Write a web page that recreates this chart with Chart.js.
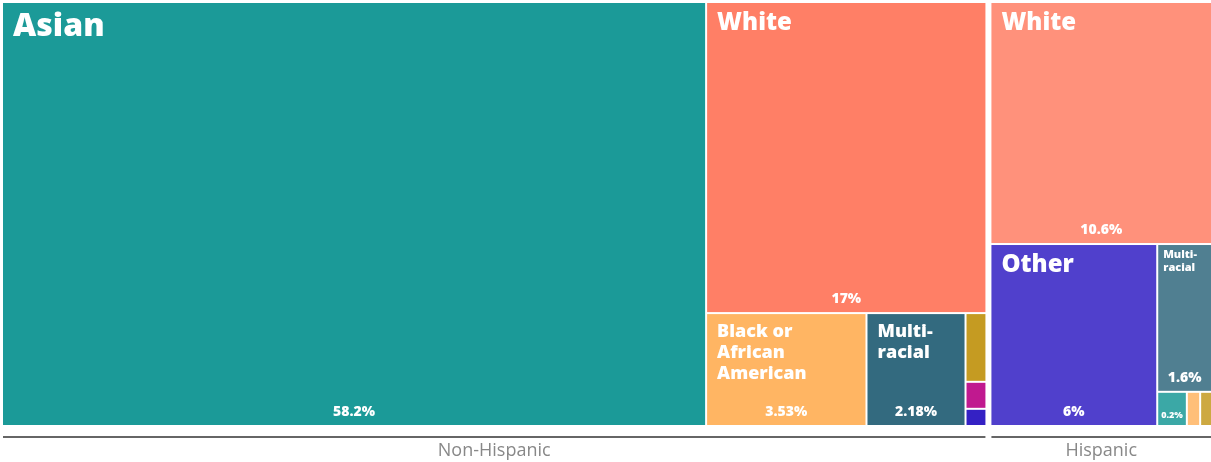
<!DOCTYPE html>
<html>
<head>
<meta charset="utf-8">
<script src="https://cdn.jsdelivr.net/npm/chart.js@4/dist/chart.umd.min.js"></script>
<style>
  body { margin: 0; background: #fff; }
  #wrap { width: 1211px; height: 462px; }
</style>
</head>
<body>
<div id="wrap"><canvas id="treeChart"></canvas></div>
<script>
// share of population (%), grouped by ethnicity then race
const groups = ['Non-Hispanic', 'Hispanic'];

const nonHispanicRaces = ['Asian', 'White', 'Black or African American', 'Multi\u00ADracial',
  'American Indian & Alaska Native', 'Native Hawaiian & Other Pacific Islander', 'Other'];
const nonHispanicShares = [58.2, 17, 3.53, 2.18, 0.28, 0.11, 0.07];

const hispanicRaces = ['White', 'Other', 'Multi\u00ADracial', 'Asian',
  'Black or African American', 'American Indian & Alaska Native'];
const hispanicShares = [10.6, 6, 1.6, 0.2, 0.09, 0.08];

const raceColors = {
  'Asian': '#1B9A98',
  'White': '#FF7F66',
  'Black or African American': '#FFB563',
  'Multi\u00ADracial': '#336A7F',
  'American Indian & Alaska Native': '#C59B22',
  'Native Hawaiian & Other Pacific Islander': '#C0198F',
  'Other': '#3421C4'
};

const groupRaces = [nonHispanicRaces, hispanicRaces];
const groupShares = [nonHispanicShares, hispanicShares];
const groupTint = [0, 0.14];   // hispanic cells drawn a little lighter

const PHI = (1 + Math.sqrt(5)) / 2;
const FONT = '"Open Sans", "Noto Sans", sans-serif';

function tint(hex, t) {
  const n = parseInt(hex.slice(1), 16);
  const c = [n >> 16, (n >> 8) & 255, n & 255].map(v => Math.round(v + (255 - v) * t));
  return 'rgb(' + c.join(',') + ')';
}

// d3 style squarify with golden ratio
function squarify(values, x0, y0, x1, y1) {
  const rects = [];
  const n = values.length;
  let value = values.reduce((a, b) => a + b, 0);
  let i0 = 0, i1 = 0;
  while (i0 < n) {
    const dx = x1 - x0, dy = y1 - y0;
    let sum = values[i1++];
    let minV = sum, maxV = sum;
    const alpha = Math.max(dy / dx, dx / dy) / (value * PHI);
    let beta = sum * sum * alpha;
    let minRatio = Math.max(maxV / beta, beta / minV);
    for (; i1 < n; ++i1) {
      const v = values[i1];
      sum += v;
      if (v < minV) minV = v;
      if (v > maxV) maxV = v;
      beta = sum * sum * alpha;
      const r = Math.max(maxV / beta, beta / minV);
      if (r > minRatio) { sum -= v; break; }
      minRatio = r;
    }
    if (dx < dy) {
      const h = dy * sum / value;
      let x = x0;
      for (let i = i0; i < i1; i++) {
        const w = dx * values[i] / sum;
        rects[i] = { x0: x, y0: y0, x1: x + w, y1: y0 + h };
        x += w;
      }
      y0 += h;
    } else {
      const w = dx * sum / value;
      let y = y0;
      for (let i = i0; i < i1; i++) {
        const h = dy * values[i] / sum;
        rects[i] = { x0: x0, y0: y, x1: x0 + w, y1: y + h };
        y += h;
      }
      x0 += w;
    }
    value -= sum;
    i0 = i1;
  }
  return rects;
}

function padded(values, r, pad) {
  return squarify(values, r.x0 - pad, r.y0 - pad, r.x1 + pad, r.y1 + pad)
    .map(c => ({ x0: c.x0 + pad, y0: c.y0 + pad, x1: c.x1 - pad, y1: c.y1 - pad }));
}

function wrapText(ctx, text, maxW) {
  const lines = [];
  let cur = '';
  text.split(' ').forEach(token => {
    const word = token.replace(/\u00AD/g, '');
    const cand = cur ? cur + ' ' + word : word;
    if (ctx.measureText(cand).width <= maxW) { cur = cand; return; }
    if (cur) lines.push(cur);
    const parts = token.split('\u00AD');
    if (ctx.measureText(word).width > maxW && parts.length > 1) {
      lines.push(parts[0] + '-');
      cur = parts.slice(1).join('');
    } else {
      cur = word;
    }
  });
  if (cur) lines.push(cur);
  return lines;
}

function nameSize(w, h) {
  if (w * h > 150000) return 32;
  if (w * h > 25000) return 24;
  if (Math.min(w, h) > 90) return 18;
  return 11;
}

const treemapPlugin = {
  id: 'treemap',
  afterDraw(chart) {
    const ctx = chart.ctx;
    const xs = chart.scales.x, ys = chart.scales.y;
    const area = {
      x0: xs.getPixelForValue(0), x1: xs.getPixelForValue(100),
      y0: ys.getPixelForValue(100), y1: ys.getPixelForValue(0)
    };
    const totals = groupShares.map(s => s.reduce((a, b) => a + b, 0));
    const groupRects = padded(totals, area, 3);

    ctx.save();
    groupRects.forEach((g, gi) => {
      const cells = padded(groupShares[gi], g, 1);
      cells.forEach((c, i) => {
        const race = groupRaces[gi][i];
        const w = c.x1 - c.x0, h = c.y1 - c.y0;
        ctx.fillStyle = tint(raceColors[race], groupTint[gi]);
        ctx.fillRect(c.x0, c.y0, w, h);

        ctx.fillStyle = '#fff';
        // name in top-left corner
        if (w >= 45 && h >= 60) {
          const fs = nameSize(w, h);
          const pad = w < 60 ? 5 : 10;
          ctx.font = '800 ' + fs + 'px ' + FONT;
          ctx.textAlign = 'left';
          ctx.textBaseline = 'alphabetic';
          const lh = Math.round(fs * 1.15);
          wrapText(ctx, race, w - 2 * pad).forEach((ln, k) => {
            ctx.fillText(ln, c.x0 + pad, c.y0 + pad + fs * 0.72 + k * lh);
          });
        }
        // share along the bottom
        if (w >= 25 && h >= 25) {
          const ps = w < 40 ? 9 : 14;
          ctx.font = '800 ' + ps + 'px ' + FONT;
          ctx.textAlign = 'center';
          ctx.textBaseline = 'alphabetic';
          ctx.fillText(groupShares[gi][i] + '%', (c.x0 + c.x1) / 2, c.y1 - (ps < 10 ? 7 : 9));
        }
      });

      // group bracket + name underneath
      ctx.strokeStyle = '#666';
      ctx.lineWidth = 2;
      ctx.beginPath();
      ctx.moveTo(g.x0, g.y1 + 12);
      ctx.lineTo(g.x1, g.y1 + 12);
      ctx.stroke();
      ctx.fillStyle = '#888';
      ctx.font = '400 18px ' + FONT;
      ctx.textAlign = 'center';
      ctx.fillText(groups[gi], (g.x0 + g.x1) / 2, g.y1 + 31);
    });
    ctx.restore();
  }
};

new Chart(document.getElementById('treeChart'), {
  type: 'scatter',
  data: { datasets: [{ data: [], pointRadius: 0 }] },
  options: {
    responsive: true,
    maintainAspectRatio: false,
    animation: false,
    layout: { padding: { left: 3, top: 3, right: 0, bottom: 37 } },
    scales: {
      x: { type: 'linear', min: 0, max: 100, display: false },
      y: { type: 'linear', min: 0, max: 100, display: false }
    },
    plugins: { legend: { display: false }, tooltip: { enabled: false } }
  },
  plugins: [treemapPlugin]
});
</script>
</body>
</html>
